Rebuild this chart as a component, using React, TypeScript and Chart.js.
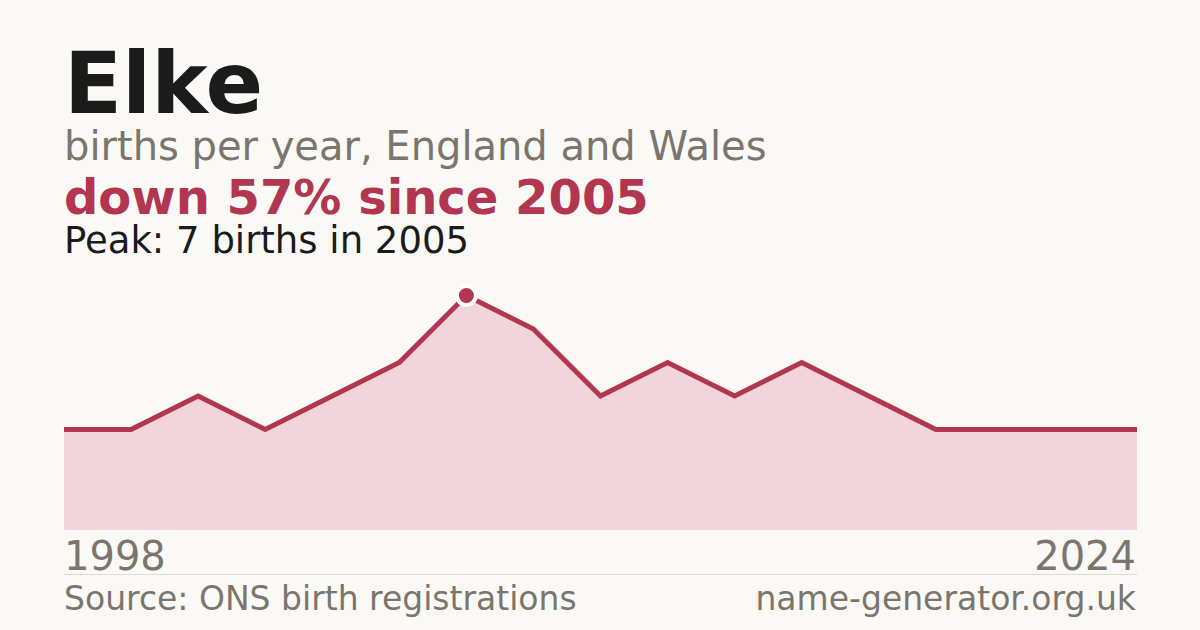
import React, { useEffect, useRef } from 'react';
import { Chart, registerables } from 'chart.js';

Chart.register(...registerables);

const years = ['1998', '1999', '2000', '2001', '2002', '2004', '2005', '2006', '2008', '2010', '2012', '2013', '2015', '2017', '2019', '2021', '2024'];
const births = [3, 3, 4, 3, 4, 5, 7, 6, 4, 5, 4, 5, 4, 3, 3, 3, 3];
const peakIndex = 6;

const FONT = '"DejaVu Sans", sans-serif';
const RED = '#b2364f';

const BirthsChart: React.FC = () => {
  const chartRef = useRef<HTMLCanvasElement>(null);

  useEffect(() => {
    if (!chartRef.current) return;
    const chart = new Chart(chartRef.current, {
      type: 'line',
      data: {
        labels: years,
        datasets: [
          {
            data: births,
            borderColor: RED,
            borderWidth: 5,
            backgroundColor: '#f1d5da',
            fill: 'origin',
            tension: 0,
            pointRadius: births.map((_, i) => (i === peakIndex ? 9.5 : 0)),
            pointBackgroundColor: RED,
            pointBorderColor: '#ffffff',
            pointBorderWidth: 4,
            clip: false,
          },
        ],
      },
      options: {
        animation: false,
        responsive: false,
        maintainAspectRatio: false,
        layout: { padding: 0 },
        plugins: { legend: { display: false }, tooltip: { enabled: false } },
        scales: {
          x: { display: false, offset: false },
          y: { display: false, min: 0, max: 8 },
        },
      },
    });
    return () => {
      chart.destroy();
    };
  }, []);

  return <canvas ref={chartRef} width={1073} height={268} style={{ position: 'absolute', left: 64, top: 262, width: 1073, height: 268 }} />;
};

const text = (top: number, size: number, color: string, weight: number | string = 'normal'): React.CSSProperties => ({
  position: 'absolute',
  top,
  left: 64,
  fontSize: size,
  lineHeight: 1,
  color,
  fontWeight: weight,
  whiteSpace: 'nowrap',
});

export default function App() {
  return (
    <div style={{ position: 'fixed', left: 0, top: 0, width: 1200, height: 630, background: '#faf9f5', fontFamily: FONT, overflow: 'hidden' }}>
      <div style={text(41, 85, '#1b1b1b', 'bold')}>Elke</div>
      <div style={text(126, 40, '#7a756d')}>births per year, England and Wales</div>
      <div style={text(173, 48, RED, 'bold')}>down 57% since 2005</div>
      <div style={text(222, 37, '#1b1b1b')}>Peak: 7 births in 2005</div>
      <BirthsChart />
      <div style={text(536, 40, '#7a756d')}>{years[0]}</div>
      <div style={{ ...text(536, 40, '#7a756d'), left: 'auto', right: 64 }}>{years[years.length - 1]}</div>
      <div style={{ position: 'absolute', left: 64, top: 574, width: 1073, height: 1, background: '#dedbd4' }} />
      <div style={text(582, 33, '#7a756d')}>Source: ONS birth registrations</div>
      <div style={{ ...text(582, 33, '#7a756d'), left: 'auto', right: 64 }}>name-generator.org.uk</div>
    </div>
  );
}
